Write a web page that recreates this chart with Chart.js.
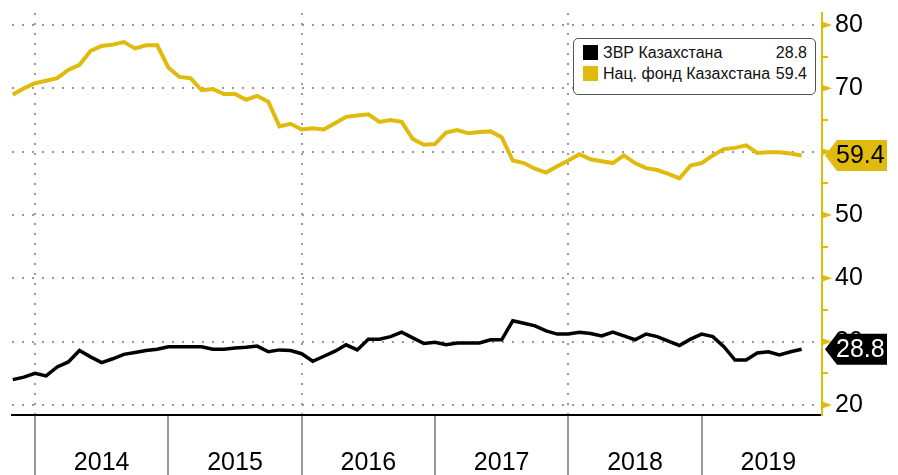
<!DOCTYPE html>
<html>
<head>
<meta charset="utf-8">
<script src="https://cdn.jsdelivr.net/npm/chart.js@4"></script>
<style>
  html, body { margin: 0; padding: 0; background: #fff; }
  #wrap { position: relative; width: 898px; height: 475px; }
  #legenda {
    position: absolute; left: 573px; top: 38px; width: 241px; height: 52px;
    border: 1.5px solid #555; border-radius: 5px; background: #fff;
    font-family: "Liberation Sans", Arial, sans-serif; font-size: 16px; color: #111;
    padding-top: 3px;
  }
  .fila { display: flex; align-items: center; height: 21px; padding: 0 8px 0 9px; }
  .cuadro { width: 15px; height: 15px; margin-right: 5px; }
  .nombre { flex: 1; }
</style>
</head>
<body>
<div id="wrap">
  <canvas id="grafico"></canvas>
  <div id="legenda">
    <div class="fila"><span class="cuadro" style="background:#000"></span><span class="nombre">ЗВР Казахстана</span><span>28.8</span></div>
    <div class="fila"><span class="cuadro" style="background:#e0ba0c"></span><span class="nombre">Нац. фонд Казахстана</span><span>59.4</span></div>
  </div>
</div>
<script>
const meses = [
  "2013-11", "2013-12",
  "2014-01", "2014-02", "2014-03", "2014-04", "2014-05", "2014-06", "2014-07", "2014-08", "2014-09", "2014-10", "2014-11", "2014-12",
  "2015-01", "2015-02", "2015-03", "2015-04", "2015-05", "2015-06", "2015-07", "2015-08", "2015-09", "2015-10", "2015-11", "2015-12",
  "2016-01", "2016-02", "2016-03", "2016-04", "2016-05", "2016-06", "2016-07", "2016-08", "2016-09", "2016-10", "2016-11", "2016-12",
  "2017-01", "2017-02", "2017-03", "2017-04", "2017-05", "2017-06", "2017-07", "2017-08", "2017-09", "2017-10", "2017-11", "2017-12",
  "2018-01", "2018-02", "2018-03", "2018-04", "2018-05", "2018-06", "2018-07", "2018-08", "2018-09", "2018-10", "2018-11", "2018-12",
  "2019-01", "2019-02", "2019-03", "2019-04", "2019-05", "2019-06", "2019-07", "2019-08", "2019-09", "2019-10"
];

// ЗВР Казахстана, млрд $
const zvr = [
  24.0, 24.4,
  25.0, 24.6, 26.0, 26.8, 28.6, 27.6, 26.7, 27.3, 28.0, 28.3, 28.6, 28.8,
  29.2, 29.2, 29.2, 29.2, 28.8, 28.8, 29.0, 29.1, 29.3, 28.4, 28.7, 28.6,
  28.1, 26.9, 27.7, 28.5, 29.5, 28.7, 30.4, 30.4, 30.8, 31.5, 30.6, 29.7,
  29.9, 29.5, 29.8, 29.8, 29.8, 30.3, 30.3, 33.3, 32.9, 32.5, 31.7, 31.2,
  31.2, 31.5, 31.3, 30.9, 31.5, 30.9, 30.3, 31.2, 30.8, 30.1, 29.4, 30.4,
  31.2, 30.8, 29.2, 27.1, 27.1, 28.2, 28.4, 27.9, 28.4, 28.8
];

// Нац. фонд Казахстана, млрд $
const natFond = [
  69.0, 70.0,
  70.8, 71.2, 71.6, 72.9, 73.7, 75.9, 76.7, 76.9, 77.3, 76.3, 76.8, 76.8,
  73.3, 71.8, 71.6, 69.7, 69.9, 69.1, 69.1, 68.2, 68.8, 67.9, 64.0, 64.4,
  63.5, 63.7, 63.5, 64.5, 65.5, 65.7, 65.9, 64.7, 65.0, 64.7, 62.0, 61.1,
  61.2, 63.0, 63.4, 62.9, 63.1, 63.2, 62.3, 58.6, 58.2, 57.3, 56.7, 57.7,
  58.6, 59.6, 58.8, 58.5, 58.2, 59.4, 58.2, 57.4, 57.1, 56.5, 55.8, 57.8,
  58.2, 59.4, 60.4, 60.6, 61.0, 59.8, 59.9, 59.9, 59.7, 59.4
];

const anios = [2014, 2015, 2016, 2017, 2018, 2019];
const ticksY = [20, 30, 40, 50, 60, 70, 80];

const amarillo = "#e0ba0c";
const fuente = "'Liberation Sans', Arial, sans-serif";

const aFecha = (m) => {
  let p = m.split("-");
  return Number(p[0]) + (Number(p[1]) - 1) / 12;
};

let puntosZvr = [], puntosFond = [];
meses.forEach((m, i) => {
  puntosZvr.push({ x: aFecha(m), y: zvr[i] });
  puntosFond.push({ x: aFecha(m), y: natFond[i] });
});

// marcas del eje derecho y etiquetas de valor
const decoracion = {
  id: "decoracion",
  afterDraw(chart) {
    const ctx = chart.ctx;
    const ys = chart.scales.y;
    const xr = chart.chartArea.right;
    ctx.save();
    ctx.fillStyle = amarillo;
    ticksY.forEach((v) => {
      let py = ys.getPixelForValue(v);
      ctx.beginPath();
      ctx.moveTo(xr, py - 3.5);
      ctx.lineTo(xr + 10, py);
      ctx.lineTo(xr, py + 3.5);
      ctx.closePath();
      ctx.fill();
    });
    const etiqueta = (valor, fondo, texto) => {
      let py = ys.getPixelForValue(valor);
      ctx.fillStyle = fondo;
      ctx.beginPath();
      ctx.moveTo(xr + 3, py);
      ctx.lineTo(xr + 15, py - 15.5);
      ctx.lineTo(887, py - 15.5);
      ctx.lineTo(887, py + 15.5);
      ctx.lineTo(xr + 15, py + 15.5);
      ctx.closePath();
      ctx.fill();
      ctx.fillStyle = texto;
      ctx.font = "25px " + fuente;
      ctx.textBaseline = "middle";
      ctx.textAlign = "left";
      ctx.fillText(valor.toFixed(1), xr + 14, py + 1);
    };
    etiqueta(natFond[natFond.length - 1], amarillo, "#000");
    etiqueta(zvr[zvr.length - 1], "#000", "#fff");
    ctx.restore();
  },
};

let canvas = document.getElementById("grafico");

new Chart(canvas, {
  type: "line",
  data: {
    datasets: [
      {
        label: "ЗВР Казахстана",
        data: puntosZvr,
        borderColor: "#000",
        borderWidth: 3.5,
        pointRadius: 0,
        lineTension: 0,
        fill: false,
      },
      {
        label: "Нац. фонд Казахстана",
        data: puntosFond,
        borderColor: amarillo,
        borderWidth: 4,
        pointRadius: 0,
        lineTension: 0,
        fill: false,
      },
    ],
  },
  options: {
    responsive: true,
    maintainAspectRatio: false,
    animation: false,
    layout: { padding: { left: 12, top: 13, right: 0, bottom: 0 } },
    plugins: { legend: { display: false }, tooltip: { enabled: false } },
    scales: {
      x: {
        type: "linear",
        min: 2013.8275,
        max: 2019.9025,
        afterBuildTicks: (scale) => {
          let t = [];
          anios.forEach((a) => {
            t.push({ value: a });
            t.push({ value: a + 0.5 });
          });
          scale.ticks = t;
        },
        afterFit: (scale) => {
          scale.height = 60;
          scale.paddingLeft = 0;
          scale.paddingRight = 0;
        },
        grid: {
          color: (c) => {
            let v = c.tick ? c.tick.value : 0;
            return Number.isInteger(v) && v % 2 === 0 ? "#999" : "rgba(0,0,0,0)";
          },
          lineWidth: 2,
          tickLength: 60,
          tickWidth: 1.5,
          tickColor: (c) => {
            let v = c.tick ? c.tick.value : 0;
            return Number.isInteger(v) ? "#777" : "rgba(0,0,0,0)";
          },
        },
        border: { display: true, color: "#000", width: 2, dash: [2, 8] },
        ticks: {
          autoSkip: false,
          maxRotation: 0,
          padding: -27,
          color: "#000",
          font: { family: fuente, size: 25 },
          callback: (v) => (Number.isInteger(v) ? "" : String(Math.floor(v))),
        },
      },
      y: {
        position: "right",
        min: 18.42,
        max: 81.895,
        afterBuildTicks: (scale) => {
          let t = [];
          for (let v = 20; v <= 80; v += 5) t.push({ value: v });
          scale.ticks = t;
        },
        afterFit: (scale) => {
          scale.width = 76;
          scale.paddingTop = 0;
          scale.paddingBottom = 0;
        },
        grid: {
          color: (c) => {
            let v = c.tick ? c.tick.value : 0;
            return v % 10 === 0 ? "#999" : "rgba(0,0,0,0)";
          },
          lineWidth: 2,
          tickLength: 6,
          tickWidth: 2,
          tickColor: (c) => {
            let v = c.tick ? c.tick.value : 0;
            return v % 10 === 0 ? "rgba(0,0,0,0)" : amarillo;
          },
        },
        border: { display: true, color: amarillo, width: 2, dash: [2, 8] },
        ticks: {
          padding: 7,
          color: "#000",
          font: { family: fuente, size: 25 },
          callback: (v) => (v % 10 === 0 ? String(v) : ""),
        },
      },
    },
  },
  plugins: [decoracion],
});
</script>
</body>
</html>
